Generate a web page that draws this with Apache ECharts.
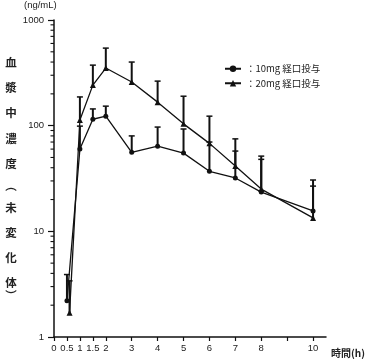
<!DOCTYPE html>
<html><head><meta charset="utf-8">
<script src="https://cdn.jsdelivr.net/npm/echarts@6/dist/echarts.min.js"></script>
<style>html,body{margin:0;padding:0;background:#fff}#c{width:370px;height:363px}</style>
</head><body><div id="c"></div>
<script>
// Data
const seriesNames = ['：10mg 経口投与', '：20mg 経口投与'];
const times10 = [0.5, 1, 1.5, 2, 3, 4, 5, 6, 7, 8, 10];
const mean10  = [2.2, 60, 115, 123, 56, 64, 55, 37, 32, 23.5, 15.6];
const upper10 = [3.9, 99, 144, 153, 80, 97, 93, 70, 57.5, 48, 30.6];
const times20 = [0.6, 1, 1.5, 2, 3, 4, 5, 6, 7, 8, 10];
const mean20  = [1.7, 113, 242, 351, 259, 167, 104, 68, 41.5, 25.1, 13.4];
const upper20 = [3.4, 187, 374, 542, 400, 264, 190, 123, 75, 51.5, 26.8];
const xTickValues  = [0, 0.5, 1, 1.5, 2, 3, 4, 5, 6, 7, 8, 9, 10];
const xLabelValues = [0, 0.5, 1, 1.5, 2, 3, 4, 5, 6, 7, 8, 10];
const yMinorTicks = [2,3,4,5,6,7,8,9,20,30,40,50,60,70,80,90,200,300,400,500,600,700,800,900];
const yTitleChars = ['血','漿','中','濃','度','︵','未','変','化','体','︶'];
const yTitleY     = [63, 88, 113, 139, 164, 186, 208, 233, 258, 283, 296];

const FONT = '"Liberation Sans", "Noto Sans CJK JP", sans-serif';
const JFONT = '"Noto Sans CJK JP", sans-serif';

function pairs(t, v) { return t.map((x, i) => [x, v[i]]); }
function errData(t, m, u) { return t.map((x, i) => [x, m[i], u[i]]); }

function errRender(params, api) {
  const x = api.value(0);
  const p0 = api.coord([x, api.value(1)]);
  const p1 = api.coord([x, api.value(2)]);
  const cap = 3;
  return {
    type: 'group',
    children: [
      { type: 'line', shape: { x1: p0[0], y1: p0[1], x2: p1[0], y2: p1[1] }, style: { stroke: '#111', lineWidth: 2 } },
      { type: 'line', shape: { x1: p1[0] - cap, y1: p1[1], x2: p1[0] + cap, y2: p1[1] }, style: { stroke: '#111', lineWidth: 1.5 } }
    ]
  };
}

const graphics = [
  { type: 'text', left: 24, top: 1, style: { text: '(ng/mL)', font: '9.5px ' + FONT, fill: '#222' } },
  { type: 'text', left: 331, top: 348, style: { text: '時間(h)', font: 'bold 10px ' + JFONT, fill: '#222' } }
];
yTitleChars.forEach((ch, i) => {
  graphics.push({ type: 'text', x: 11, y: yTitleY[i], style: { text: ch, font: 'bold 11.5px ' + JFONT, fill: '#222', align: 'center', verticalAlign: 'middle' } });
});

const chart = echarts.init(document.getElementById('c'));
chart.setOption({
  animation: false,
  backgroundColor: '#fff',
  grid: { left: 54, top: 20, width: 272, height: 317, containLabel: false },
  legend: {
    orient: 'vertical', left: 219, top: 59, itemGap: 5, itemWidth: 16, itemHeight: 8,
    data: seriesNames,
    textStyle: { fontSize: 9.5, fontFamily: JFONT, color: '#222', padding: [0, 0, 0, 0] }
  },
  xAxis: {
    type: 'value', min: 0, max: 10.5,
    axisLine: { lineStyle: { color: '#111', width: 1.5 } },
    axisTick: { length: 4, lineStyle: { color: '#111', width: 1.2 }, customValues: xTickValues },
    axisLabel: { customValues: xLabelValues, margin: 7, fontSize: 9.5, fontFamily: FONT, color: '#222',
      formatter: v => String(v) },
    splitLine: { show: false }
  },
  yAxis: {
    type: 'log', logBase: 10, min: 1, max: 1000,
    axisLine: { show: true, lineStyle: { color: '#111', width: 1.5 } },
    axisTick: { show: true, length: 6, lineStyle: { color: '#111', width: 1.2 } },
    axisLabel: { margin: 10, fontSize: 9.5, fontFamily: FONT, color: '#222', formatter: v => String(Math.round(v)) },
    splitLine: { show: false }
  },
  graphic: graphics,
  series: [
    { type: 'custom', silent: true, renderItem: function (params, api) {
        const p = api.coord([0, api.value(0)]);
        return { type: 'line', shape: { x1: p[0] - 3.5, y1: p[1], x2: p[0], y2: p[1] }, style: { stroke: '#111', lineWidth: 1.1 } };
      }, data: yMinorTicks.map(v => [v]), encode: { y: 0 }, z: 1 },
    { type: 'custom', silent: true, renderItem: errRender, data: errData(times10, mean10, upper10), encode: { x: 0, y: [1, 2] }, z: 2 },
    { type: 'custom', silent: true, renderItem: errRender, data: errData(times20, mean20, upper20), encode: { x: 0, y: [1, 2] }, z: 2 },
    { name: seriesNames[0], type: 'line', data: pairs(times10, mean10), symbol: 'circle', symbolSize: 5,
      lineStyle: { color: '#111', width: 1.3 }, itemStyle: { color: '#111' }, z: 3 },
    { name: seriesNames[1], type: 'line', data: pairs(times20, mean20), symbol: 'triangle', symbolSize: 6,
      lineStyle: { color: '#111', width: 1.3 }, itemStyle: { color: '#111' }, z: 3 }
  ]
});
</script></body></html>
